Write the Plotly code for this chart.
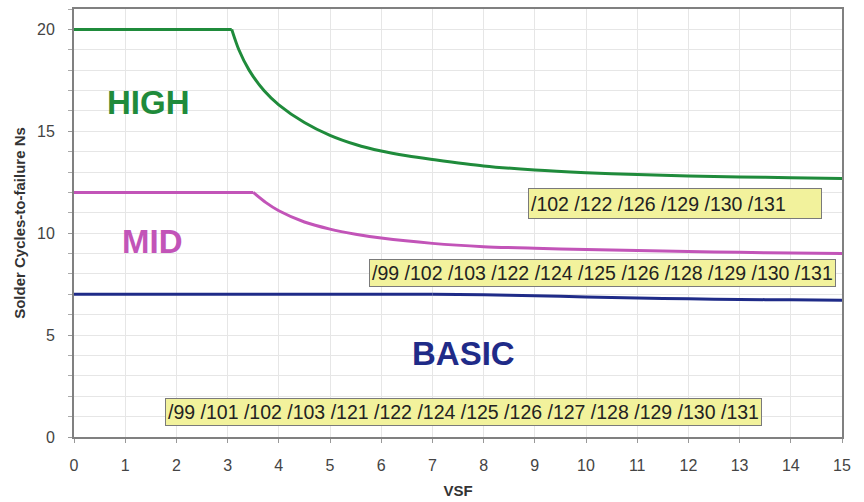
import plotly.graph_objects as go

# ---- data ----
high_x = [0, 3.08, 3.22, 3.42, 3.71, 4.0, 4.5, 5.0, 5.5, 6.0, 6.5, 7, 8, 9, 10, 11, 12, 13, 14, 15]
high_y = [20, 20, 19.0, 18.0, 17.0, 16.3, 15.43, 14.8, 14.35, 14.03, 13.8, 13.62, 13.3, 13.1, 12.97, 12.88, 12.8, 12.76, 12.72, 12.68]
high_knee = 1   # index where plateau ends

mid_x = [0, 3.5, 3.75, 4.0, 4.5, 5.0, 5.5, 6, 7, 8, 9, 10, 11, 12, 13, 14, 15]
mid_y = [12, 12, 11.5, 11.1, 10.55, 10.2, 9.95, 9.76, 9.5, 9.34, 9.26, 9.2, 9.15, 9.1, 9.06, 9.03, 9.0]
mid_knee = 1

basic_x = [0, 7, 8, 9, 10, 11, 12, 13, 14, 15]
basic_y = [7, 7, 6.98, 6.93, 6.87, 6.82, 6.78, 6.75, 6.73, 6.71]
basic_knee = 1

series_names = ["HIGH", "MID", "BASIC"]
series_colors = ["#1f8b3b", "#c254b8", "#1f2b88"]

box_texts = [
    "/102 /122 /126 /129 /130 /131",
    "/99 /102 /103 /122 /124 /125 /126 /128 /129 /130 /131",
    "/99 /101 /102 /103 /121 /122 /124 /125 /126 /127 /128 /129 /130 /131",
]
box_x = [11.74, 10.32, 7.6]
box_y = [11.44, 8.04, 1.21]

label_x = [1.45, 1.53, 7.6]
label_y = [16.43, 9.58, 4.11]

x_ticks = list(range(0, 16))
y_ticks = [0, 5, 10, 15, 20]

FONT = "Liberation Sans, Arial, sans-serif"

fig = go.Figure()
for xs, ys, k, name, col in zip([high_x, mid_x, basic_x], [high_y, mid_y, basic_y],
                                [high_knee, mid_knee, basic_knee],
                                series_names, series_colors):
    # flat plateau part
    fig.add_trace(go.Scatter(x=xs[:k + 1], y=ys[:k + 1], mode="lines", name=name,
                             line=dict(color=col, width=3)))
    # decaying part, smoothed
    fig.add_trace(go.Scatter(x=xs[k:], y=ys[k:], mode="lines", name=name,
                             line=dict(color=col, width=3, shape="spline", smoothing=0.8)))

for name, col, lx, ly in zip(series_names, series_colors, label_x, label_y):
    fig.add_annotation(x=lx, y=ly, text="<b>%s</b>" % name, showarrow=False,
                       font=dict(family=FONT, size=33, color=col))

for i, (t, bx, by) in enumerate(zip(box_texts, box_x, box_y)):
    extra = dict(width=288, height=25, align="left") if i == 0 else {}
    fig.add_annotation(x=bx, y=by, text=t, showarrow=False,
                       font=dict(family=FONT, size=19.5, color="#222222"),
                       bgcolor="#f2f29c", bordercolor="#7a7a7a", borderwidth=1,
                       borderpad=2, **extra)

fig.update_layout(
    width=864, height=502,
    margin=dict(l=74, r=22, t=9, b=65),
    paper_bgcolor="white", plot_bgcolor="white",
    showlegend=False,
    font=dict(family=FONT, color="#444444"),
)
fig.update_xaxes(
    range=[0, 15], tickvals=x_ticks, ticks="outside", ticklen=4, tickcolor="#999999",
    showgrid=True, gridcolor="#e6e6e6", gridwidth=1,
    showline=True, linecolor="#808080", linewidth=2, mirror=True,
    tickfont=dict(size=16, color="#444444"), zeroline=False, ticklabelstandoff=9,
    automargin=False,
    title=dict(text="<b>VSF</b>", font=dict(size=15, color="#333333"), standoff=12),
)
fig.update_yaxes(
    range=[0, 21], tickvals=y_ticks, ticks="outside", ticklen=4, tickcolor="#999999",
    showgrid=True, gridcolor="#e6e6e6", gridwidth=1,
    minor=dict(dtick=1, showgrid=True, gridcolor="#e6e6e6", ticks="outside", ticklen=4, tickcolor="#aaaaaa"),
    showline=True, linecolor="#808080", linewidth=2, mirror=True,
    tickfont=dict(size=16, color="#444444"), zeroline=False, ticklabelstandoff=10,
    automargin=False,
    title=dict(text="<b>Solder Cycles-to-failure Ns</b>", font=dict(size=15, color="#333333"), standoff=8),
)

fig.write_html("out.html", config={"displayModeBar": False},
               post_script="document.body.style.margin='0';document.body.style.overflow='hidden';")
